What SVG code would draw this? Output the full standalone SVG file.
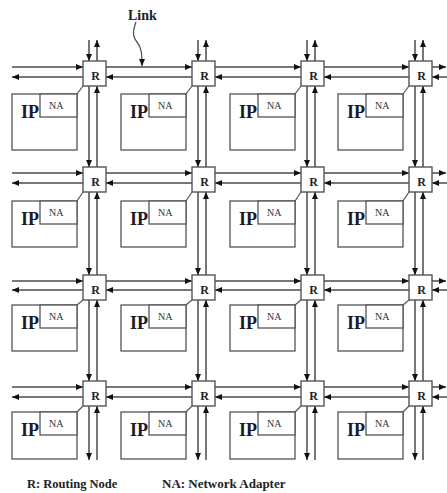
<svg xmlns="http://www.w3.org/2000/svg" width="447" height="493" viewBox="0 0 447 493">
<defs>
<marker id="a" markerUnits="userSpaceOnUse" markerWidth="8" markerHeight="7" refX="7" refY="3" orient="auto"><path d="M0,0 L7,3 L0,6 z" fill="#111"/></marker>
<style>
.k line,.k path{stroke:#4a4a4a;stroke-width:1.5;fill:none;marker-end:url(#a)}
.k .d{stroke:#555;stroke-width:1.2;marker-end:none}
.r rect{fill:#fff;stroke:#555;stroke-width:1.4}
.r text{font-family:"Liberation Serif",serif;font-weight:bold;font-size:12px;fill:#222;text-anchor:middle}
.ip rect{fill:#fff;stroke:#555;stroke-width:1.3}
.ip .t{font-family:"Liberation Serif",serif;font-weight:bold;font-size:18px;fill:#1a1a2a}
.ip .n{font-family:"Liberation Serif",serif;font-size:10px;fill:#333}
.lbl{font-family:"Liberation Serif",serif;font-weight:bold;fill:#222}
</style>
</defs>
<rect width="447" height="493" fill="#fff"/>
<g id="connectors" class="k">
<line x1="12" y1="67" x2="83" y2="67"/><line x1="83" y1="77" x2="12" y2="77"/>
<line x1="106" y1="67" x2="192" y2="67"/><line x1="192" y1="77" x2="106" y2="77"/>
<line x1="215" y1="67" x2="301" y2="67"/><line x1="301" y1="77" x2="215" y2="77"/>
<line x1="324" y1="67" x2="409" y2="67"/><line x1="409" y1="77" x2="324" y2="77"/>
<line x1="432" y1="67" x2="446" y2="67"/><line x1="447" y1="77" x2="432" y2="77"/>
<line x1="12" y1="173" x2="83" y2="173"/><line x1="83" y1="183" x2="12" y2="183"/>
<line x1="106" y1="173" x2="192" y2="173"/><line x1="192" y1="183" x2="106" y2="183"/>
<line x1="215" y1="173" x2="301" y2="173"/><line x1="301" y1="183" x2="215" y2="183"/>
<line x1="324" y1="173" x2="409" y2="173"/><line x1="409" y1="183" x2="324" y2="183"/>
<line x1="432" y1="173" x2="446" y2="173"/><line x1="447" y1="183" x2="432" y2="183"/>
<line x1="12" y1="281" x2="83" y2="281"/><line x1="83" y1="290" x2="12" y2="290"/>
<line x1="106" y1="281" x2="192" y2="281"/><line x1="192" y1="290" x2="106" y2="290"/>
<line x1="215" y1="281" x2="301" y2="281"/><line x1="301" y1="290" x2="215" y2="290"/>
<line x1="324" y1="281" x2="409" y2="281"/><line x1="409" y1="290" x2="324" y2="290"/>
<line x1="432" y1="281" x2="446" y2="281"/><line x1="447" y1="290" x2="432" y2="290"/>
<line x1="12" y1="387" x2="83" y2="387"/><line x1="83" y1="397" x2="12" y2="397"/>
<line x1="106" y1="387" x2="192" y2="387"/><line x1="192" y1="397" x2="106" y2="397"/>
<line x1="215" y1="387" x2="301" y2="387"/><line x1="301" y1="397" x2="215" y2="397"/>
<line x1="324" y1="387" x2="409" y2="387"/><line x1="409" y1="397" x2="324" y2="397"/>
<line x1="432" y1="387" x2="446" y2="387"/><line x1="447" y1="397" x2="432" y2="397"/>
<line x1="89" y1="40" x2="89" y2="61"/><line x1="97" y1="61" x2="97" y2="40"/>
<line x1="89" y1="86" x2="89" y2="167"/><line x1="97" y1="167" x2="97" y2="86"/>
<line x1="89" y1="192" x2="89" y2="275"/><line x1="97" y1="275" x2="97" y2="192"/>
<line x1="89" y1="300" x2="89" y2="381"/><line x1="97" y1="381" x2="97" y2="300"/>
<line x1="89" y1="406" x2="89" y2="460"/><line x1="97" y1="460" x2="97" y2="406"/>
<line x1="198" y1="40" x2="198" y2="61"/><line x1="206" y1="61" x2="206" y2="40"/>
<line x1="198" y1="86" x2="198" y2="167"/><line x1="206" y1="167" x2="206" y2="86"/>
<line x1="198" y1="192" x2="198" y2="275"/><line x1="206" y1="275" x2="206" y2="192"/>
<line x1="198" y1="300" x2="198" y2="381"/><line x1="206" y1="381" x2="206" y2="300"/>
<line x1="198" y1="406" x2="198" y2="460"/><line x1="206" y1="460" x2="206" y2="406"/>
<line x1="307" y1="40" x2="307" y2="61"/><line x1="315" y1="61" x2="315" y2="40"/>
<line x1="307" y1="86" x2="307" y2="167"/><line x1="315" y1="167" x2="315" y2="86"/>
<line x1="307" y1="192" x2="307" y2="275"/><line x1="315" y1="275" x2="315" y2="192"/>
<line x1="307" y1="300" x2="307" y2="381"/><line x1="315" y1="381" x2="315" y2="300"/>
<line x1="307" y1="406" x2="307" y2="460"/><line x1="315" y1="460" x2="315" y2="406"/>
<line x1="415" y1="40" x2="415" y2="61"/><line x1="423" y1="61" x2="423" y2="40"/>
<line x1="415" y1="86" x2="415" y2="167"/><line x1="423" y1="167" x2="423" y2="86"/>
<line x1="415" y1="192" x2="415" y2="275"/><line x1="423" y1="275" x2="423" y2="192"/>
<line x1="415" y1="300" x2="415" y2="381"/><line x1="423" y1="381" x2="423" y2="300"/>
<line x1="415" y1="406" x2="415" y2="460"/><line x1="423" y1="460" x2="423" y2="406"/>
<line class="d" x1="77" y1="94" x2="83" y2="86"/><line class="d" x1="186" y1="94" x2="192" y2="86"/>
<line class="d" x1="295" y1="94" x2="301" y2="86"/><line class="d" x1="403" y1="94" x2="409" y2="86"/>
<line class="d" x1="77" y1="201" x2="83" y2="192"/><line class="d" x1="186" y1="201" x2="192" y2="192"/>
<line class="d" x1="295" y1="201" x2="301" y2="192"/><line class="d" x1="403" y1="201" x2="409" y2="192"/>
<line class="d" x1="77" y1="305" x2="83" y2="300"/><line class="d" x1="186" y1="305" x2="192" y2="300"/>
<line class="d" x1="295" y1="305" x2="301" y2="300"/><line class="d" x1="403" y1="305" x2="409" y2="300"/>
<line class="d" x1="77" y1="412" x2="83" y2="406"/><line class="d" x1="186" y1="412" x2="192" y2="406"/>
<line class="d" x1="295" y1="412" x2="301" y2="406"/><line class="d" x1="403" y1="412" x2="409" y2="406"/>
<path d="M136,22 C133,30 132,36 137,42 C142,48 142,55 142,66" style="stroke-width:1.2"/>
</g>
<g id="r11" class="r" transform="translate(83,61)"><rect width="23" height="25"/><text x="12.5" y="19">R</text></g>
<g id="r12" class="r" transform="translate(192,61)"><rect width="23" height="25"/><text x="12.5" y="19">R</text></g>
<g id="r13" class="r" transform="translate(301,61)"><rect width="23" height="25"/><text x="12.5" y="19">R</text></g>
<g id="r14" class="r" transform="translate(409,61)"><rect width="23" height="25"/><text x="12.5" y="19">R</text></g>
<g id="r21" class="r" transform="translate(83,167)"><rect width="23" height="25"/><text x="12.5" y="19">R</text></g>
<g id="r22" class="r" transform="translate(192,167)"><rect width="23" height="25"/><text x="12.5" y="19">R</text></g>
<g id="r23" class="r" transform="translate(301,167)"><rect width="23" height="25"/><text x="12.5" y="19">R</text></g>
<g id="r24" class="r" transform="translate(409,167)"><rect width="23" height="25"/><text x="12.5" y="19">R</text></g>
<g id="r31" class="r" transform="translate(83,275)"><rect width="23" height="25"/><text x="12.5" y="19">R</text></g>
<g id="r32" class="r" transform="translate(192,275)"><rect width="23" height="25"/><text x="12.5" y="19">R</text></g>
<g id="r33" class="r" transform="translate(301,275)"><rect width="23" height="25"/><text x="12.5" y="19">R</text></g>
<g id="r34" class="r" transform="translate(409,275)"><rect width="23" height="25"/><text x="12.5" y="19">R</text></g>
<g id="r41" class="r" transform="translate(83,381)"><rect width="23" height="25"/><text x="12.5" y="19">R</text></g>
<g id="r42" class="r" transform="translate(192,381)"><rect width="23" height="25"/><text x="12.5" y="19">R</text></g>
<g id="r43" class="r" transform="translate(301,381)"><rect width="23" height="25"/><text x="12.5" y="19">R</text></g>
<g id="r44" class="r" transform="translate(409,381)"><rect width="23" height="25"/><text x="12.5" y="19">R</text></g>
<g id="ip11" class="ip" transform="translate(12,94)"><rect width="65" height="56"/><rect x="28" width="37" height="23"/><text class="t" x="9" y="24">IP</text><text class="n" x="37" y="15">NA</text></g>
<g id="ip12" class="ip" transform="translate(121,94)"><rect width="65" height="56"/><rect x="28" width="37" height="23"/><text class="t" x="9" y="24">IP</text><text class="n" x="37" y="15">NA</text></g>
<g id="ip13" class="ip" transform="translate(230,94)"><rect width="65" height="56"/><rect x="28" width="37" height="23"/><text class="t" x="9" y="24">IP</text><text class="n" x="37" y="15">NA</text></g>
<g id="ip14" class="ip" transform="translate(338,94)"><rect width="65" height="56"/><rect x="28" width="37" height="23"/><text class="t" x="9" y="24">IP</text><text class="n" x="37" y="15">NA</text></g>
<g id="ip21" class="ip" transform="translate(12,201)"><rect width="65" height="46"/><rect x="28" width="37" height="23"/><text class="t" x="9" y="24">IP</text><text class="n" x="37" y="15">NA</text></g>
<g id="ip22" class="ip" transform="translate(121,201)"><rect width="65" height="46"/><rect x="28" width="37" height="23"/><text class="t" x="9" y="24">IP</text><text class="n" x="37" y="15">NA</text></g>
<g id="ip23" class="ip" transform="translate(230,201)"><rect width="65" height="46"/><rect x="28" width="37" height="23"/><text class="t" x="9" y="24">IP</text><text class="n" x="37" y="15">NA</text></g>
<g id="ip24" class="ip" transform="translate(338,201)"><rect width="65" height="46"/><rect x="28" width="37" height="23"/><text class="t" x="9" y="24">IP</text><text class="n" x="37" y="15">NA</text></g>
<g id="ip31" class="ip" transform="translate(12,305)"><rect width="65" height="46"/><rect x="28" width="37" height="23"/><text class="t" x="9" y="24">IP</text><text class="n" x="37" y="15">NA</text></g>
<g id="ip32" class="ip" transform="translate(121,305)"><rect width="65" height="46"/><rect x="28" width="37" height="23"/><text class="t" x="9" y="24">IP</text><text class="n" x="37" y="15">NA</text></g>
<g id="ip33" class="ip" transform="translate(230,305)"><rect width="65" height="46"/><rect x="28" width="37" height="23"/><text class="t" x="9" y="24">IP</text><text class="n" x="37" y="15">NA</text></g>
<g id="ip34" class="ip" transform="translate(338,305)"><rect width="65" height="46"/><rect x="28" width="37" height="23"/><text class="t" x="9" y="24">IP</text><text class="n" x="37" y="15">NA</text></g>
<g id="ip41" class="ip" transform="translate(12,412)"><rect width="65" height="47"/><rect x="28" width="37" height="23"/><text class="t" x="9" y="24">IP</text><text class="n" x="37" y="15">NA</text></g>
<g id="ip42" class="ip" transform="translate(121,412)"><rect width="65" height="47"/><rect x="28" width="37" height="23"/><text class="t" x="9" y="24">IP</text><text class="n" x="37" y="15">NA</text></g>
<g id="ip43" class="ip" transform="translate(230,412)"><rect width="65" height="47"/><rect x="28" width="37" height="23"/><text class="t" x="9" y="24">IP</text><text class="n" x="37" y="15">NA</text></g>
<g id="ip44" class="ip" transform="translate(338,412)"><rect width="65" height="47"/><rect x="28" width="37" height="23"/><text class="t" x="9" y="24">IP</text><text class="n" x="37" y="15">NA</text></g>
<g id="labels">
<text class="lbl" x="128" y="20" font-size="14">Link</text>
<text class="lbl" x="27" y="488" font-size="12.5">R: Routing Node</text>
<text class="lbl" x="162" y="488" font-size="13">NA: Network Adapter</text>
</g>
</svg>
